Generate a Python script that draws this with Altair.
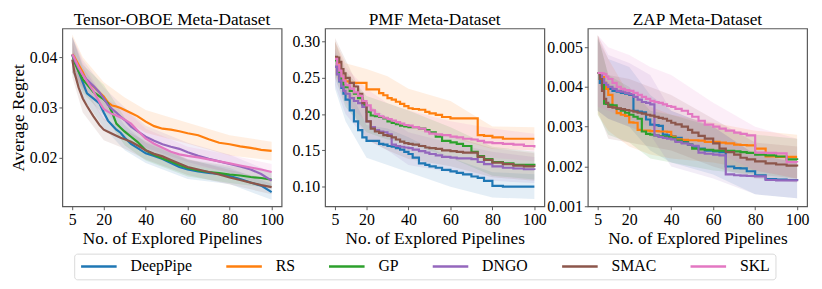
import altair as alt
import pandas as pd

METHODS = ["DeepPipe", "RS", "GP", "DNGO", "SMAC", "SKL"]
COLORS = ["#1f77b4", "#ff7f0e", "#2ca02c", "#9467bd", "#8c564b", "#e377c2"]
FONT = "Liberation Serif"

# ---------------- Tensor-OBOE ----------------
X_OBOE = [5, 6, 8, 10, 12, 15, 18, 20, 22, 24, 26, 28, 30, 33, 36, 40, 44, 48, 52, 56, 60, 65, 70, 75, 80, 85, 90, 95, 100]
OBOE_DEEPPIPE = [0.0405, 0.0395, 0.0372, 0.035, 0.0328, 0.0318, 0.0308, 0.029, 0.0274, 0.0265, 0.0256, 0.025, 0.024, 0.0228, 0.022, 0.0209, 0.0204, 0.0198, 0.019, 0.0182, 0.0177, 0.0173, 0.017, 0.0168, 0.0164, 0.0158, 0.0151, 0.0145, 0.0132]
OBOE_RS = [0.0406, 0.040, 0.0385, 0.037, 0.0352, 0.0342, 0.033, 0.0322, 0.031, 0.0304, 0.0302, 0.0299, 0.0295, 0.0289, 0.0283, 0.0272, 0.0263, 0.0258, 0.0256, 0.0253, 0.0249, 0.0245, 0.0237, 0.023, 0.0227, 0.0223, 0.022, 0.0216, 0.0214]
OBOE_GP = [0.0405, 0.039, 0.0372, 0.0356, 0.0346, 0.0331, 0.0322, 0.0316, 0.0308, 0.029, 0.0268, 0.026, 0.0252, 0.0242, 0.0232, 0.0215, 0.0206, 0.0199, 0.0193, 0.0186, 0.018, 0.0175, 0.0172, 0.017, 0.0167, 0.0165, 0.0162, 0.016, 0.0157]
OBOE_DNGO = [0.0405, 0.0395, 0.0378, 0.0365, 0.0355, 0.0343, 0.033, 0.0318, 0.0305, 0.0297, 0.029, 0.0282, 0.0275, 0.0262, 0.0253, 0.0242, 0.0234, 0.0227, 0.0222, 0.0218, 0.0211, 0.0204, 0.0198, 0.0193, 0.0188, 0.0183, 0.0177, 0.0168, 0.0155]
OBOE_SMAC = [0.0395, 0.037, 0.034, 0.0318, 0.0303, 0.0283, 0.0265, 0.0256, 0.0252, 0.0248, 0.0244, 0.024, 0.0237, 0.0232, 0.0225, 0.0215, 0.0208, 0.0203, 0.0196, 0.0189, 0.0182, 0.0177, 0.0172, 0.0167, 0.0161, 0.0156, 0.0151, 0.0146, 0.0142]
OBOE_SKL = [0.0406, 0.0398, 0.038, 0.0365, 0.0352, 0.0333, 0.031, 0.0297, 0.0292, 0.0287, 0.0284, 0.028, 0.0276, 0.0268, 0.0255, 0.0238, 0.0228, 0.022, 0.0212, 0.0207, 0.0204, 0.0201, 0.0197, 0.0193, 0.0189, 0.0185, 0.0181, 0.0177, 0.0172]

BAND_X = [5, 10, 20, 30, 40, 60, 80, 100]
OBOE_DEEPPIPE_LO = [0.037, 0.032, 0.026, 0.0215, 0.019, 0.0158, 0.0148, 0.0117]
OBOE_DEEPPIPE_HI = [0.044, 0.038, 0.032, 0.0265, 0.023, 0.0196, 0.018, 0.0148]
OBOE_RS_LO = [0.037, 0.034, 0.030, 0.0275, 0.025, 0.0228, 0.0205, 0.0195]
OBOE_RS_HI = [0.0445, 0.040, 0.035, 0.032, 0.0295, 0.027, 0.0245, 0.0232]
OBOE_GP_LO = [0.037, 0.033, 0.0285, 0.0225, 0.0195, 0.0163, 0.015, 0.014]
OBOE_GP_HI = [0.044, 0.0385, 0.0345, 0.028, 0.0235, 0.0197, 0.0184, 0.0174]
OBOE_DNGO_LO = [0.037, 0.0335, 0.0295, 0.025, 0.022, 0.0192, 0.017, 0.014]
OBOE_DNGO_HI = [0.044, 0.0395, 0.034, 0.030, 0.0264, 0.023, 0.0206, 0.0172]
OBOE_SMAC_LO = [0.036, 0.029, 0.0235, 0.0218, 0.0197, 0.0166, 0.0147, 0.0128]
OBOE_SMAC_HI = [0.043, 0.0345, 0.0278, 0.0256, 0.0233, 0.0198, 0.0176, 0.0156]
OBOE_SKL_LO = [0.037, 0.034, 0.0275, 0.0255, 0.0218, 0.0186, 0.0172, 0.0157]
OBOE_SKL_HI = [0.044, 0.039, 0.032, 0.0297, 0.0258, 0.0222, 0.0206, 0.0188]

# ---------------- PMF ----------------
X_STEP = [5, 6, 7, 8, 9, 10, 12, 14, 16, 18, 20, 22, 24, 26, 28, 30, 32, 34, 36, 38, 40, 42, 45, 48, 50, 53, 56, 60, 63, 66, 70, 73, 76, 80, 85, 90, 95, 100]
PMF_DEEPPIPE = [0.265, 0.255, 0.245, 0.236, 0.228, 0.22, 0.205, 0.19, 0.178, 0.168, 0.163, 0.163, 0.163, 0.159, 0.158, 0.156, 0.155, 0.153, 0.151, 0.148, 0.145, 0.14, 0.132, 0.13, 0.128, 0.126, 0.123, 0.121, 0.119, 0.117, 0.114, 0.112, 0.108, 0.101, 0.1, 0.1, 0.1, 0.1]
PMF_RS = [0.278, 0.27, 0.26, 0.252, 0.248, 0.245, 0.243, 0.243, 0.243, 0.243, 0.234, 0.234, 0.234, 0.229, 0.226, 0.222, 0.22, 0.217, 0.214, 0.211, 0.208, 0.207, 0.206, 0.203, 0.201, 0.199, 0.196, 0.194, 0.194, 0.194, 0.194, 0.171, 0.17, 0.168, 0.166, 0.166, 0.166, 0.166]
PMF_GP = [0.274, 0.262, 0.252, 0.245, 0.24, 0.237, 0.232, 0.228, 0.222, 0.213, 0.203, 0.198, 0.197, 0.196, 0.194, 0.19, 0.188, 0.186, 0.184, 0.183, 0.182, 0.182, 0.18, 0.178, 0.175, 0.169, 0.163, 0.161, 0.159, 0.156, 0.148, 0.142, 0.138, 0.134, 0.132, 0.13, 0.13, 0.129]
PMF_DNGO = [0.265, 0.255, 0.246, 0.238, 0.232, 0.228, 0.222, 0.218, 0.215, 0.21, 0.19, 0.182, 0.178, 0.176, 0.175, 0.172, 0.158, 0.156, 0.155, 0.154, 0.153, 0.151, 0.149, 0.147, 0.145, 0.143, 0.141, 0.14, 0.139, 0.139, 0.138, 0.134, 0.131, 0.128, 0.126, 0.125, 0.124, 0.123]
PMF_SMAC = [0.279, 0.278, 0.272, 0.262, 0.256, 0.25, 0.243, 0.238, 0.228, 0.215, 0.19, 0.18, 0.176, 0.174, 0.171, 0.17, 0.168, 0.165, 0.162, 0.16, 0.159, 0.158, 0.156, 0.154, 0.153, 0.152, 0.15, 0.149, 0.148, 0.147, 0.147, 0.141, 0.137, 0.133, 0.131, 0.129, 0.128, 0.127]
PMF_SKL = [0.276, 0.268, 0.26, 0.252, 0.246, 0.24, 0.235, 0.23, 0.225, 0.218, 0.212, 0.205, 0.2, 0.197, 0.195, 0.193, 0.191, 0.189, 0.187, 0.185, 0.184, 0.182, 0.18, 0.176, 0.173, 0.172, 0.171, 0.169, 0.168, 0.166, 0.165, 0.163, 0.161, 0.16, 0.159, 0.158, 0.156, 0.154]

PMF_DEEPPIPE_LO = [0.235, 0.19, 0.14, 0.13, 0.12, 0.10, 0.085, 0.083]
PMF_DEEPPIPE_HI = [0.285, 0.245, 0.185, 0.18, 0.168, 0.14, 0.12, 0.117]
PMF_RS_LO = [0.255, 0.225, 0.21, 0.195, 0.18, 0.168, 0.152, 0.15]
PMF_RS_HI = [0.30, 0.27, 0.262, 0.252, 0.235, 0.218, 0.183, 0.182]
PMF_GP_LO = [0.25, 0.21, 0.175, 0.165, 0.16, 0.14, 0.115, 0.11]
PMF_GP_HI = [0.30, 0.26, 0.225, 0.215, 0.205, 0.182, 0.155, 0.148]
PMF_DNGO_LO = [0.24, 0.20, 0.165, 0.15, 0.13, 0.12, 0.108, 0.105]
PMF_DNGO_HI = [0.29, 0.255, 0.215, 0.195, 0.175, 0.16, 0.148, 0.141]
PMF_SMAC_LO = [0.255, 0.225, 0.165, 0.15, 0.138, 0.128, 0.113, 0.108]
PMF_SMAC_HI = [0.305, 0.275, 0.215, 0.19, 0.18, 0.17, 0.153, 0.146]
PMF_SKL_LO = [0.25, 0.215, 0.19, 0.17, 0.162, 0.148, 0.14, 0.135]
PMF_SKL_HI = [0.30, 0.265, 0.235, 0.215, 0.205, 0.19, 0.18, 0.173]

# ---------------- ZAP ----------------
ZAP_DEEPPIPE = [0.00435, 0.0041, 0.00402, 0.004, 0.00397, 0.00395, 0.0039, 0.00388, 0.00385, 0.00383, 0.0038, 0.0034, 0.00338, 0.00336, 0.00318, 0.00305, 0.00304, 0.00302, 0.0028, 0.00278, 0.00276, 0.00272, 0.00262, 0.00255, 0.0025, 0.00245, 0.0024, 0.00238, 0.00236, 0.002, 0.00196, 0.00195, 0.00188, 0.00178, 0.00168, 0.00167, 0.00166, 0.00165]
ZAP_RS = [0.00435, 0.0043, 0.00425, 0.0041, 0.00395, 0.0038, 0.0035, 0.00334, 0.0033, 0.00327, 0.00311, 0.0031, 0.00292, 0.0029, 0.0029, 0.00289, 0.00289, 0.00288, 0.00288, 0.00287, 0.00275, 0.00268, 0.00267, 0.00266, 0.00266, 0.00265, 0.00262, 0.00262, 0.0026, 0.00258, 0.00255, 0.00254, 0.00253, 0.00245, 0.00225, 0.00224, 0.00224, 0.00224]
ZAP_GP = [0.00435, 0.0042, 0.00405, 0.00358, 0.00357, 0.00355, 0.00354, 0.00345, 0.0034, 0.00335, 0.0033, 0.00325, 0.0032, 0.00288, 0.00282, 0.0028, 0.00278, 0.00276, 0.00275, 0.00274, 0.00272, 0.00265, 0.0026, 0.00255, 0.00245, 0.00243, 0.00242, 0.0024, 0.0024, 0.00239, 0.00238, 0.00236, 0.00234, 0.0023, 0.00228, 0.00225, 0.00218, 0.00216]
ZAP_DNGO = [0.00435, 0.0043, 0.0042, 0.0041, 0.00405, 0.004, 0.00395, 0.0039, 0.00388, 0.00385, 0.00382, 0.00375, 0.00368, 0.00362, 0.0036, 0.00356, 0.00278, 0.00274, 0.00272, 0.0027, 0.00268, 0.00262, 0.00258, 0.00255, 0.00252, 0.00235, 0.00232, 0.0023, 0.00228, 0.0018, 0.00178, 0.00177, 0.00176, 0.00175, 0.00166, 0.00165, 0.00165, 0.00163]
ZAP_SMAC = [0.00435, 0.0042, 0.0039, 0.0037, 0.0036, 0.0035, 0.00348, 0.00346, 0.00344, 0.00342, 0.0034, 0.00338, 0.00335, 0.00333, 0.0033, 0.00328, 0.00325, 0.00322, 0.0032, 0.00315, 0.0031, 0.00306, 0.003, 0.00292, 0.00285, 0.00277, 0.0027, 0.00258, 0.00245, 0.00236, 0.0023, 0.00222, 0.00218, 0.00213, 0.00208, 0.00205, 0.00202, 0.002]
ZAP_SKL = [0.00435, 0.00435, 0.00434, 0.00432, 0.00426, 0.0042, 0.0041, 0.004, 0.00395, 0.00392, 0.0039, 0.00385, 0.0038, 0.00375, 0.0037, 0.00365, 0.00362, 0.0036, 0.00356, 0.00352, 0.0035, 0.00345, 0.0034, 0.00332, 0.00325, 0.00315, 0.00305, 0.003, 0.00295, 0.0029, 0.00285, 0.00282, 0.00278, 0.00235, 0.00234, 0.00233, 0.00211, 0.0021]

ZAP_DEEPPIPE_LO = [0.0034, 0.0032, 0.003, 0.0024, 0.0021, 0.0018, 0.0013, 0.0012]
ZAP_DEEPPIPE_HI = [0.0052, 0.0047, 0.0045, 0.0038, 0.0034, 0.003, 0.0023, 0.0021]
ZAP_RS_LO = [0.0033, 0.0029, 0.0025, 0.0023, 0.0022, 0.0021, 0.0019, 0.0017]
ZAP_RS_HI = [0.0053, 0.0047, 0.0038, 0.0035, 0.0033, 0.0031, 0.0029, 0.0028]
ZAP_GP_LO = [0.0033, 0.0028, 0.0026, 0.0022, 0.0021, 0.0019, 0.0018, 0.0017]
ZAP_GP_HI = [0.0053, 0.0043, 0.004, 0.0034, 0.0033, 0.003, 0.0028, 0.0027]
ZAP_DNGO_LO = [0.0034, 0.0032, 0.003, 0.0028, 0.002, 0.0017, 0.0013, 0.0012]
ZAP_DNGO_HI = [0.0053, 0.0048, 0.0046, 0.0043, 0.0034, 0.003, 0.0023, 0.0021]
ZAP_SMAC_LO = [0.0034, 0.0027, 0.0026, 0.0025, 0.0024, 0.002, 0.0017, 0.0016]
ZAP_SMAC_HI = [0.0053, 0.0043, 0.0042, 0.004, 0.0038, 0.0032, 0.0026, 0.0025]
ZAP_SKL_LO = [0.0035, 0.0034, 0.0032, 0.003, 0.0027, 0.0024, 0.0019, 0.0017]
ZAP_SKL_HI = [0.0053, 0.005, 0.0048, 0.0045, 0.0043, 0.0036, 0.003, 0.0027]

X_TICKS = [5, 20, 40, 60, 80, 100]


def build(xs, means, los, his):
    lines, bands = [], []
    for m, vals in zip(METHODS, means):
        for x, v in zip(xs, vals):
            lines.append({"x": x, "v": v, "method": m})
    for m, lo, hi in zip(METHODS, los, his):
        for x, a, b in zip(BAND_X, lo, hi):
            bands.append({"x": x, "lo": a, "hi": b, "method": m})
    return pd.DataFrame(lines), pd.DataFrame(bands)


LEGEND = alt.Legend(
    orient="none", legendX=12, legendY=228, direction="horizontal", columns=6,
    title=None, symbolType="M-1,0H5", symbolSize=144, symbolStrokeWidth=2.5,
    labelFont=FONT, labelFontSize=16, labelColor="black", labelOffset=36,
    columnPadding=29, padding=5, strokeColor="#d9d9d9", fillColor="white",
    cornerRadius=3,
)


def panel(title, xs, means, los, his, ydom, yticks, yfmt, interp, ytitle, legend):
    ldf, bdf = build(xs, means, los, his)
    xenc = alt.X("x:Q", scale=alt.Scale(domain=[0.25, 104.75], nice=False, zero=False),
                 axis=alt.Axis(values=X_TICKS, title="No. of Explored Pipelines"))
    yaxis = alt.Axis(values=yticks, format=yfmt, title=ytitle)
    yscale = alt.Scale(domain=ydom, nice=False, zero=False)
    band = alt.Chart(bdf).mark_area(opacity=0.12, clip=True, interpolate="linear").encode(
        x=xenc,
        y=alt.Y("lo:Q", scale=yscale, axis=yaxis),
        y2="hi:Q",
        fill=alt.Fill("method:N", scale=alt.Scale(domain=METHODS, range=COLORS), legend=None),
        detail="method:N",
    )
    line = alt.Chart(ldf).mark_line(strokeWidth=2.2, clip=True, interpolate=interp).encode(
        x=xenc,
        y=alt.Y("v:Q", scale=yscale, axis=yaxis),
        color=alt.Color("method:N", scale=alt.Scale(domain=METHODS, range=COLORS), legend=legend),
        order=alt.Order("x:Q"),
    )
    return alt.layer(band, line).properties(
        width=222, height=180,
        title=alt.TitleParams(title, font=FONT, fontSize=17.5, fontWeight="normal", color="black", offset=0),
    )


p1 = panel("Tensor-OBOE Meta-Dataset", X_OBOE,
           [OBOE_DEEPPIPE, OBOE_RS, OBOE_GP, OBOE_DNGO, OBOE_SMAC, OBOE_SKL],
           [OBOE_DEEPPIPE_LO, OBOE_RS_LO, OBOE_GP_LO, OBOE_DNGO_LO, OBOE_SMAC_LO, OBOE_SKL_LO],
           [OBOE_DEEPPIPE_HI, OBOE_RS_HI, OBOE_GP_HI, OBOE_DNGO_HI, OBOE_SMAC_HI, OBOE_SKL_HI],
           [0.0104, 0.0457], [0.02, 0.03, 0.04], ".2f", "linear", "Average Regret", LEGEND)
p2 = panel("PMF Meta-Dataset", X_STEP,
           [PMF_DEEPPIPE, PMF_RS, PMF_GP, PMF_DNGO, PMF_SMAC, PMF_SKL],
           [PMF_DEEPPIPE_LO, PMF_RS_LO, PMF_GP_LO, PMF_DNGO_LO, PMF_SMAC_LO, PMF_SKL_LO],
           [PMF_DEEPPIPE_HI, PMF_RS_HI, PMF_GP_HI, PMF_DNGO_HI, PMF_SMAC_HI, PMF_SKL_HI],
           [0.073, 0.318], [0.10, 0.15, 0.20, 0.25, 0.30], ".2f", "step-after", None, None)
p3 = panel("ZAP Meta-Dataset", X_STEP,
           [ZAP_DEEPPIPE, ZAP_RS, ZAP_GP, ZAP_DNGO, ZAP_SMAC, ZAP_SKL],
           [ZAP_DEEPPIPE_LO, ZAP_RS_LO, ZAP_GP_LO, ZAP_DNGO_LO, ZAP_SMAC_LO, ZAP_SKL_LO],
           [ZAP_DEEPPIPE_HI, ZAP_RS_HI, ZAP_GP_HI, ZAP_DNGO_HI, ZAP_SMAC_HI, ZAP_SKL_HI],
           [0.001, 0.00547], [0.001, 0.002, 0.003, 0.004, 0.005], ".3f", "step-after", None, None)

chart = alt.hconcat(p1, p2, p3, spacing=44, bounds="flush").resolve_legend(
    color="independent"
).properties(
    padding={"left": 0, "top": 0, "right": 4, "bottom": 0}
).configure(font=FONT).configure_view(
    stroke="#5a5a5a", strokeWidth=1.2
).configure_axis(
    grid=False, domain=False, labelFont=FONT, labelFontSize=16, labelColor="black",
    titleFont=FONT, titleFontSize=17.5, titleFontWeight="normal", titleColor="black",
    tickColor="#5a5a5a", tickSize=3.5, tickWidth=1, labelPadding=2, titlePadding=2,
)

chart.save("out.html", embed_options={"renderer": "svg", "actions": False})
